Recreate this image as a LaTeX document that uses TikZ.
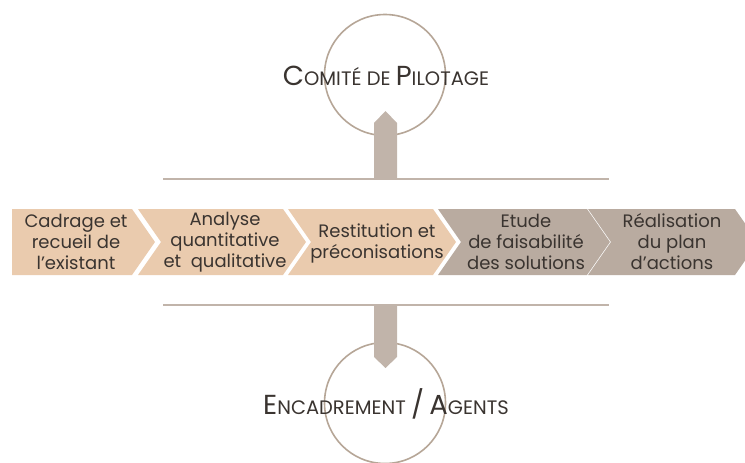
\documentclass[tikz,border=0pt]{standalone}
\usepackage{fontspec}
\setmainfont{Poppins}
\definecolor{peach}{HTML}{EACBAE}
\definecolor{taupe}{HTML}{B9ABA0}
\definecolor{barcol}{HTML}{C1B4AA}
\definecolor{ringcol}{HTML}{B6A697}
\definecolor{ink}{HTML}{3A3430}
\newcommand\bigcaps{\fontsize{27.5}{27.5}\selectfont}
\newcommand\smallcaps{\fontsize{19.5}{19.5}\selectfont}
\tikzset{
  ring/.style={draw=ringcol, line width=1.6pt, circle, minimum size=121pt, inner sep=0pt},
  steptxt/.style={align=center, text=ink, inner sep=0pt, font=\fontsize{18}{21}\selectfont},
  headtxt/.style={text=ink, inner sep=0pt, anchor=base},
  barline/.style={draw=barcol, line width=2.5pt}
}

\begin{document}
\begin{tikzpicture}[x=1pt, y=-1pt]
\useasboundingbox (0,0) rectangle (745,463);
\node[ring] (copil) at (385,75) {};
\node[ring] (agents) at (385,403) {};

\fill[barcol] (374,179) -- (374,123) -- (385.5,111) -- (397,123) -- (397,179) -- cycle;
\fill[barcol] (374,305) -- (374,357) -- (385.5,368) -- (397,357) -- (397,305) -- cycle;
\draw[barline] (163,179) -- (609,179);
\draw[barline] (163,305) -- (609,305);

% etapes
\fill[peach] (12,209) -- (132,209) -- (155,242) -- (132,275) -- (12,275) -- cycle;
\fill[peach] (138,209) -- (283,209) -- (306,242) -- (283,275) -- (138,275) -- (161,242) -- cycle;
\fill[peach] (288,209) -- (433,209) -- (456,242) -- (433,275) -- (288,275) -- (311,242) -- cycle;
\fill[taupe] (438,209) -- (587,209) -- (610,242) -- (587,275) -- (438,275) -- (461,242) -- cycle;
\fill[taupe] (588,209) -- (735,209) -- (758,242) -- (735,275) -- (588,275) -- (611,242) -- cycle;

\node[steptxt] (s1) at (76,242) {Cadrage et\\recueil de\\l’existant};
\node[steptxt] (s2) at (225,242) {Analyse\\quantitative\\et~ qualitative};
\node[steptxt] (s3) at (377,243) {Restitution et\\préconisations};
\node[steptxt] (s4) at (526,242) {Etude\\de faisabilité\\des solutions};
\node[steptxt] (s5) at (672,242) {Réalisation\\du plan\\d’actions};

\node[headtxt] (copiltxt) at (386,85) {{\bigcaps C}{\smallcaps OMITÉ DE }{\bigcaps P}{\smallcaps ILOTAGE}};
\node[headtxt] (agentstxt) at (386,414) {{\bigcaps E}{\smallcaps NCADREMENT }{\bigcaps /}{\smallcaps\ }{\bigcaps A}{\smallcaps GENTS}};
\end{tikzpicture}
\end{document}
